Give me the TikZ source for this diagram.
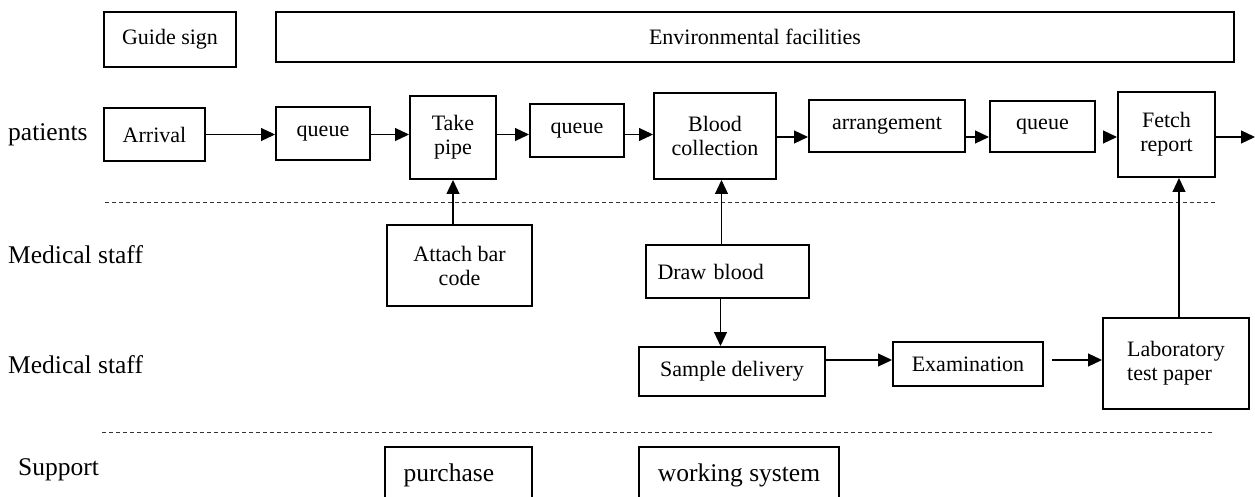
\documentclass[tikz,border=0pt]{standalone}
\usepackage{fontspec}
\setmainfont{Liberation Serif}
\usepackage{tikz}
\usetikzlibrary{shapes,arrows,positioning,calc,arrows.meta}
\newcommand{\boxtxt}{\fontsize{22}{24}\selectfont}
\newcommand{\lanetxt}{\fontsize{25.5}{28}\selectfont}

\begin{document}
\begin{tikzpicture}[x=1pt, y=-1pt,
   box/.style={draw, line width=2pt, inner sep=2pt, align=center, font=\boxtxt},
   lane/.style={anchor=west, inner sep=0pt, font=\lanetxt},
   arr/.style={line width=1.2pt, -{Triangle[length=14pt, width=13pt]}},
   sep/.style={line width=0.8pt, dash pattern=on 4pt off 3pt, black!80}]
   \useasboundingbox (0,0) rectangle (1255,497);
   \clip (0,0) rectangle (1255,497);

   % Top row
   \node (guide) at (170,39.5) [box, minimum width=132pt, minimum height=55pt] {Guide sign};
   \node (env) at (755,37) [box, minimum width=958pt, minimum height=50pt] {Environmental facilities};

   % Patients
   \node (lpat) at (8,135) [lane] {patients};
   \node (arrival) at (154.5,134.5) [box, minimum width=101pt, minimum height=53pt] {Arrival};
   \node (queueA) at (323,133.5) [box, minimum width=94pt, minimum height=53pt] {queue};
   \node (take) at (453,137.5) [box, minimum width=86pt, minimum height=83pt] {Take\\pipe};
   \node (queueB) at (577,130.5) [box, minimum width=94pt, minimum height=53pt] {queue};
   \node (blood) at (715,136) [box, minimum width=122pt, minimum height=86pt] {Blood\\collection};
   \node (arrange) at (887,126) [box, minimum width=156pt, minimum height=52pt] {arrangement};
   \node (queueC) at (1042.5,126.5) [box, minimum width=105pt, minimum height=51pt] {queue};
   \node (fetch) at (1166.5,134.5) [box, minimum width=97pt, minimum height=85pt] {Fetch\\report};
   \coordinate (exit) at (1255,137);

   \draw[sep] (105,202) -- (1216,202);

   % Medical staff
   \node (lmedA) at (8,255) [lane] {Medical staff};
   \node (attach) at (459.5,265.5) [box, minimum width=145pt, minimum height=81pt] {Attach bar\\code};
   \node (draw) at (727.5,271.5) [box, minimum width=163pt, minimum height=53pt, text width=140pt, align=left] {Draw blood};

   % Medical staff
   \node (lmedB) at (8,365) [lane] {Medical staff};
   \node (sample) at (732,371.5) [box, minimum width=186pt, minimum height=49pt] {Sample delivery};
   \node (exam) at (968,364) [box, minimum width=150pt, minimum height=44pt] {Examination};
   \node (lab) at (1176,363.5) [box, minimum width=146pt, minimum height=91pt, align=left] {Laboratory\\test paper};

   \draw[sep] (102,432) -- (1213,432);

   % Support
   \node (lsup) at (18,470) [lane] {Support};
   \node (purchase) at (458.5,475) [box, minimum width=147pt, minimum height=56pt, text width=110pt, align=left, font=\lanetxt] {purchase};
   \node (working) at (739,475) [box, minimum width=200pt, minimum height=56pt, font=\lanetxt] {working system};

   % Connectors
   \draw[arr] (arrival) -- (arrival -| queueA.west);
   \draw[arr] (queueA.east |- arrival) -- (arrival -| take.west);
   \draw[arr] (take.east |- arrival) -- (arrival -| queueB.west);
   \draw[arr] (queueB.east |- arrival) -- (arrival -| blood.west);
   \draw[arr] (blood.east |- exit) -- (exit -| arrange.west);
   \draw[arr] (arrange.east |- exit) -- (exit -| queueC.west);
   \draw[arr] ([xshift=10pt]queueC.east |- exit) -- (exit -| fetch.west);
   \draw[arr] (fetch.east |- exit) -- (exit);
   \draw[arr] (attach.north -| take) -- (take.south);
   \draw[arr] ([xshift=-6pt]draw.north) -- ([xshift=-6pt]draw.north |- blood.south);
   \draw[arr] ([xshift=-7pt]draw.south) -- ([xshift=-7pt]draw.south |- sample.north);
   \draw[arr] ([yshift=4pt]exam.west -| sample.east) -- ([yshift=4pt]exam.west);
   \draw[arr] ([xshift=8pt, yshift=4pt]exam.east) -- ([yshift=4pt]exam.east -| lab.west);
   \draw[arr] ([xshift=3pt]lab.north) -- ([xshift=3pt]lab.north |- fetch.south);

\end{tikzpicture}
\end{document}
